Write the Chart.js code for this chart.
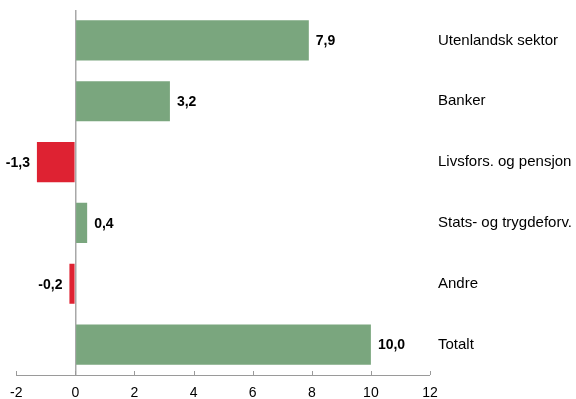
<!DOCTYPE html>
<html>
<head>
<meta charset="utf-8">
<script src="https://cdn.jsdelivr.net/npm/chart.js@4"></script>
<style>
  html, body { margin: 0; padding: 0; background: #fff; }
  #wrap { width: 576px; height: 399px; }
</style>
</head>
<body>
<div id="wrap"><canvas id="sectorChart"></canvas></div>
<script>
// Sektorer og bidrag
const categories = ['Utenlandsk sektor', 'Banker', 'Livsfors. og pensjon', 'Stats- og trygdeforv.', 'Andre', 'Totalt'];
const values = [7.9, 3.2, -1.3, 0.4, -0.2, 10.0];
const xMin = -2;
const xMax = 12;
const xStep = 2;

const green = '#7aa67e';
const red = '#de2232';
const axisGray = '#9a9a9a';
const fontFamily = '"Liberation Sans", Arial, sans-serif';

const fmt = v => v.toFixed(1).replace('.', ',');

// value labels next to each bar end
const valueLabels = {
  id: 'valueLabels',
  afterDatasetsDraw(chart) {
    const c = chart.ctx;
    const meta = chart.getDatasetMeta(0);
    c.save();
    c.font = 'bold 14px ' + fontFamily;
    c.fillStyle = '#000';
    c.textBaseline = 'middle';
    meta.data.forEach((bar, i) => {
      const v = values[i];
      if (v >= 0) {
        c.textAlign = 'left';
        c.fillText(fmt(v), bar.x + 7, bar.y + 1);
      } else {
        c.textAlign = 'right';
        c.fillText(fmt(v), bar.x - 7, bar.y + 1);
      }
    });
    c.restore();
  }
};

// short tick marks pointing up from the x axis
const innerTicks = {
  id: 'innerTicks',
  afterDraw(chart) {
    const c = chart.ctx;
    const x = chart.scales.x;
    const bottom = chart.chartArea.bottom;
    c.save();
    c.strokeStyle = axisGray;
    c.lineWidth = 1;
    x.ticks.forEach(t => {
      const px = Math.round(x.getPixelForValue(t.value)) + 0.5;
      c.beginPath();
      c.moveTo(px, bottom);
      c.lineTo(px, bottom - 4);
      c.stroke();
    });
    c.restore();
  }
};

new Chart(document.getElementById('sectorChart'), {
  type: 'bar',
  data: {
    labels: categories,
    datasets: [{
      data: values,
      backgroundColor: values.map(v => v < 0 ? red : green),
      borderWidth: 0,
      barPercentage: 0.66,
      categoryPercentage: 1.0
    }]
  },
  options: {
    indexAxis: 'y',
    responsive: true,
    maintainAspectRatio: false,
    animation: false,
    layout: { padding: { top: 10, left: 12, right: 0, bottom: 0 } },
    plugins: {
      legend: { display: false },
      tooltip: { enabled: false }
    },
    scales: {
      x: {
        min: xMin,
        max: xMax,
        ticks: {
          stepSize: xStep,
          padding: 10,
          color: '#000',
          font: { size: 14, family: fontFamily },
          callback: v => String(v)
        },
        grid: {
          drawTicks: false,
          color: ctx => ctx.tick && ctx.tick.value === 0 ? '#a8a8a8' : 'rgba(0,0,0,0)',
          lineWidth: ctx => ctx.tick && ctx.tick.value === 0 ? 1.5 : 0
        },
        border: { display: true, color: axisGray, width: 1 },
        afterFit: scale => { scale.height = 24; }
      },
      y: {
        position: 'right',
        ticks: {
          padding: 8,
          color: '#000',
          font: { size: 15, family: fontFamily }
        },
        grid: { display: false, drawTicks: false },
        border: { display: false },
        afterFit: scale => {
          scale.width = 146;
          scale.paddingTop = 0;
          scale.paddingBottom = 0;
        }
      }
    }
  },
  plugins: [valueLabels, innerTicks]
});
</script>
</body>
</html>
